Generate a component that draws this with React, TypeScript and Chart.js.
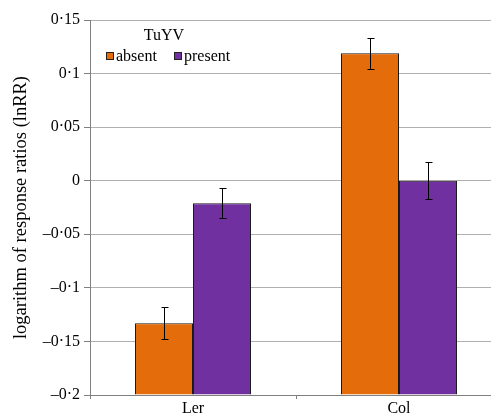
import React, { useEffect, useRef } from "react";
import { Chart, registerables } from "chart.js";
Chart.register(...registerables);

const categories = ["Ler", "Col"];
const seriesNames = ["absent", "present"];
const absentValues = [-0.133, 0.119];
const absentErrors = [0.015, 0.0145];
const presentValues = [-0.021, 0.0];
const presentErrors = [0.014, 0.017];
const seriesColors = ["#E46C0A", "#7030A0"];
const legendTitle = "TuYV";
const yTitle = "logarithm of response ratios (lnRR)";
const yMin = -0.2;
const yMax = 0.15;
const yStep = 0.05;

const FONT = "'Liberation Serif', 'Times New Roman', serif";

function fmt(v: number): string {
  const r = Number(v.toFixed(2));
  return String(r).replace(".", "\u00B7").replace("-", "\u2013");
}

const errorBarPlugin = {
  id: "errorBars",
  afterDatasetsDraw(chart: any) {
    const ctx = chart.ctx;
    const y = chart.scales.y;
    chart.data.datasets.forEach((ds: any, i: number) => {
      const meta = chart.getDatasetMeta(i);
      meta.data.forEach((bar: any, j: number) => {
        const v = ds.data[j];
        const e = ds.errors[j];
        const top = Math.round(y.getPixelForValue(v + e)) + 0.5;
        const bot = Math.round(y.getPixelForValue(v - e)) + 0.5;
        const x = Math.round(bar.x) + 0.5;
        ctx.save();
        ctx.strokeStyle = "#000";
        ctx.lineWidth = 1;
        ctx.beginPath();
        ctx.moveTo(x, top);
        ctx.lineTo(x, bot);
        ctx.moveTo(x - 3, top);
        ctx.lineTo(x + 4, top);
        ctx.moveTo(x - 3, bot);
        ctx.lineTo(x + 4, bot);
        ctx.stroke();
        ctx.restore();
      });
    });
  },
};

const legendPlugin = {
  id: "innerLegend",
  afterDraw(chart: any) {
    const ctx = chart.ctx;
    ctx.save();
    ctx.fillStyle = "#000";
    ctx.font = `16px ${FONT}`;
    ctx.textBaseline = "alphabetic";
    ctx.textAlign = "center";
    ctx.fillText(legendTitle, 164, 40);
    ctx.textAlign = "left";
    const items = [
      { sx: 106, tx: 116 },
      { sx: 174, tx: 184 },
    ];
    chart.data.datasets.forEach((ds: any, i: number) => {
      const it = items[i];
      ctx.fillStyle = ds.backgroundColor;
      ctx.fillRect(it.sx, 52, 8, 8);
      ctx.strokeStyle = "#222";
      ctx.lineWidth = 1;
      ctx.strokeRect(it.sx + 0.5, 52.5, 7, 7);
      ctx.fillStyle = "#000";
      ctx.fillText(ds.label, it.tx, 61);
    });
    ctx.restore();
  },
};

export default function App() {
  const ref = useRef<HTMLCanvasElement | null>(null);
  useEffect(() => {
    if (!ref.current) return;
    const chart = new Chart(ref.current, {
      type: "bar",
      data: {
        labels: categories,
        datasets: [
          {
            label: seriesNames[0],
            data: absentValues,
            errors: absentErrors,
            backgroundColor: seriesColors[0],
            borderColor: "#1a1a1a",
            borderWidth: 1,
            base: yMin,
          } as any,
          {
            label: seriesNames[1],
            data: presentValues,
            errors: presentErrors,
            backgroundColor: seriesColors[1],
            borderColor: "#1a1a1a",
            borderWidth: 1,
            base: yMin,
          } as any,
        ],
      },
      options: {
        animation: false,
        responsive: false,
        layout: { padding: { top: 20, right: 1, left: 0, bottom: 0 } },
        datasets: { bar: { categoryPercentage: 0.563, barPercentage: 1 } },
        plugins: {
          legend: { display: false },
          tooltip: { enabled: false },
        },
        scales: {
          x: {
            grid: {
              drawOnChartArea: false,
              drawTicks: true,
              tickLength: 4,
              offset: true,
              color: "#808080",
            },
            border: { color: "#808080" },
            ticks: {
              color: "#000",
              font: { family: FONT, size: 16 },
              padding: 0,
            },
            afterFit: (s: any) => {
              s.height = 19;
            },
          },
          y: {
            min: yMin,
            max: yMax,
            grid: {
              color: "#b0b0b0",
              tickColor: "#808080",
              tickLength: 6,
            },
            border: { color: "#808080" },
            ticks: {
              stepSize: yStep,
              color: "#000",
              font: { family: FONT, size: 16 },
              padding: 4,
              callback: (v: any) => fmt(Number(v)),
            },
            title: {
              display: true,
              text: yTitle,
              color: "#000",
              font: { family: FONT, size: 18.5 },
              padding: { top: 10, bottom: 0 },
            },
            afterFit: (s: any) => {
              s.width = 90;
            },
          },
        },
      } as any,
      plugins: [errorBarPlugin, legendPlugin],
    });
    return () => chart.destroy();
  }, []);
  return (
    <div
      style={{
        position: "fixed",
        left: 0,
        top: 0,
        width: 491,
        height: 414,
        overflow: "hidden",
        background: "#fff",
      }}
    >
      <canvas ref={ref} width={503} height={414} style={{ display: "block" }} />
    </div>
  );
}
